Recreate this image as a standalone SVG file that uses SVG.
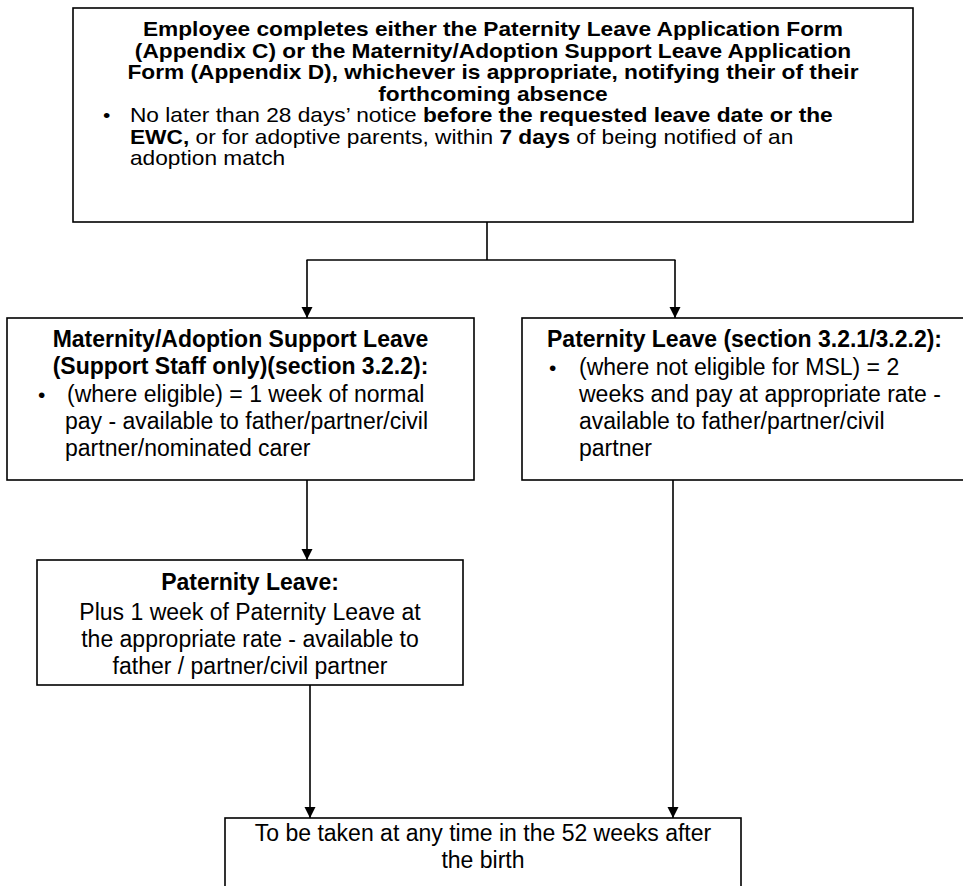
<svg xmlns="http://www.w3.org/2000/svg" width="963" height="886" viewBox="0 0 963 886">
<defs>
<marker id="arr" markerUnits="userSpaceOnUse" markerWidth="12" markerHeight="12" refX="11" refY="5.5" orient="auto">
<path d="M0,0 L11,5.5 L0,11 z" fill="#000"/>
</marker>
<style>
.box{fill:#fff;stroke:#000;stroke-width:1.6}
.t{font-family:"Liberation Sans",Arial,sans-serif;font-size:23px;fill:#000}
.s{font-size:22.7px}
.b{font-weight:bold}
.c{text-anchor:middle}
.bul{font-family:"Liberation Sans",Arial,sans-serif;font-size:21px;fill:#000}
.ln{fill:none;stroke:#000;stroke-width:1.6}
</style>
</defs>
<rect width="963" height="886" fill="#fff"/>
<g id="connectors">
<line class="ln" x1="487" y1="222" x2="487" y2="260"/>
<line class="ln" x1="306.5" y1="260" x2="675.5" y2="260"/>
<line class="ln" x1="307" y1="260" x2="307" y2="318" marker-end="url(#arr)"/>
<line class="ln" x1="675" y1="260" x2="675" y2="318" marker-end="url(#arr)"/>
<line class="ln" x1="307" y1="480" x2="307" y2="560" marker-end="url(#arr)"/>
<line class="ln" x1="310" y1="685" x2="310" y2="818" marker-end="url(#arr)"/>
<line class="ln" x1="673" y1="480" x2="673" y2="818" marker-end="url(#arr)"/>
</g>
<g id="node-top">
<rect class="box" x="73" y="8" width="840" height="214"/>
<g transform="scale(1,0.86)">
<text class="t s b c" x="493" y="42.44">Employee completes either the Paternity Leave Application Form</text>
<text class="t s b c" x="493" y="67.44">(Appendix C) or the Maternity/Adoption Support Leave Application</text>
<text class="t s b c" x="493" y="92.44">Form (Appendix D), whichever is appropriate, notifying their of their</text>
<text class="t s b c" x="493" y="117.44">forthcoming absence</text>
<text class="bul" x="103" y="141.9">•</text>
<text class="t s" x="130" y="142.44">No later than 28 days’ notice <tspan class="b">before the requested leave date or the</tspan></text>
<text class="t s" x="130" y="167.44"><tspan class="b">EWC,</tspan> or for adoptive parents, within <tspan class="b">7 days</tspan> of being notified of an</text>
<text class="t s" x="130" y="192.44">adoption match</text>
</g>
</g>
<g id="node-msl">
<rect class="box" x="7" y="318" width="467" height="162"/>
<text class="t b c" x="240.5" y="347">Maternity/Adoption Support Leave</text>
<text class="t b c" x="240.5" y="374">(Support Staff only)(section 3.2.2):</text>
<text class="bul" x="38" y="402">•</text>
<text class="t" x="67" y="402"> (where eligible) = 1 week of normal</text>
<text class="t" x="65" y="429">pay - available to father/partner/civil</text>
<text class="t" x="65" y="456">partner/nominated carer</text>
</g>
<g id="node-pl-right">
<rect class="box" x="522" y="318" width="445" height="162"/>
<text class="t b" x="547" y="347">Paternity Leave (section 3.2.1/3.2.2):</text>
<text class="bul" x="549" y="375">•</text>
<text class="t" x="579" y="375">(where not eligible for MSL) = 2</text>
<text class="t" x="579" y="402">weeks and pay at appropriate rate -</text>
<text class="t" x="579" y="429">available to father/partner/civil</text>
<text class="t" x="579" y="456">partner</text>
</g>
<g id="node-pl-left">
<rect class="box" x="37" y="560" width="426" height="125"/>
<text class="t b c" x="250" y="590">Paternity Leave:</text>
<text class="t c" x="250" y="620">Plus 1 week of Paternity Leave at</text>
<text class="t c" x="250" y="647">the appropriate rate - available to</text>
<text class="t c" x="250" y="674">father / partner/civil partner</text>
</g>
<g id="node-bottom">
<rect class="box" x="225" y="818" width="516" height="80"/>
<text class="t c" x="483" y="841">To be taken at any time in the 52 weeks after</text>
<text class="t c" x="483" y="868">the birth</text>
</g>
</svg>
